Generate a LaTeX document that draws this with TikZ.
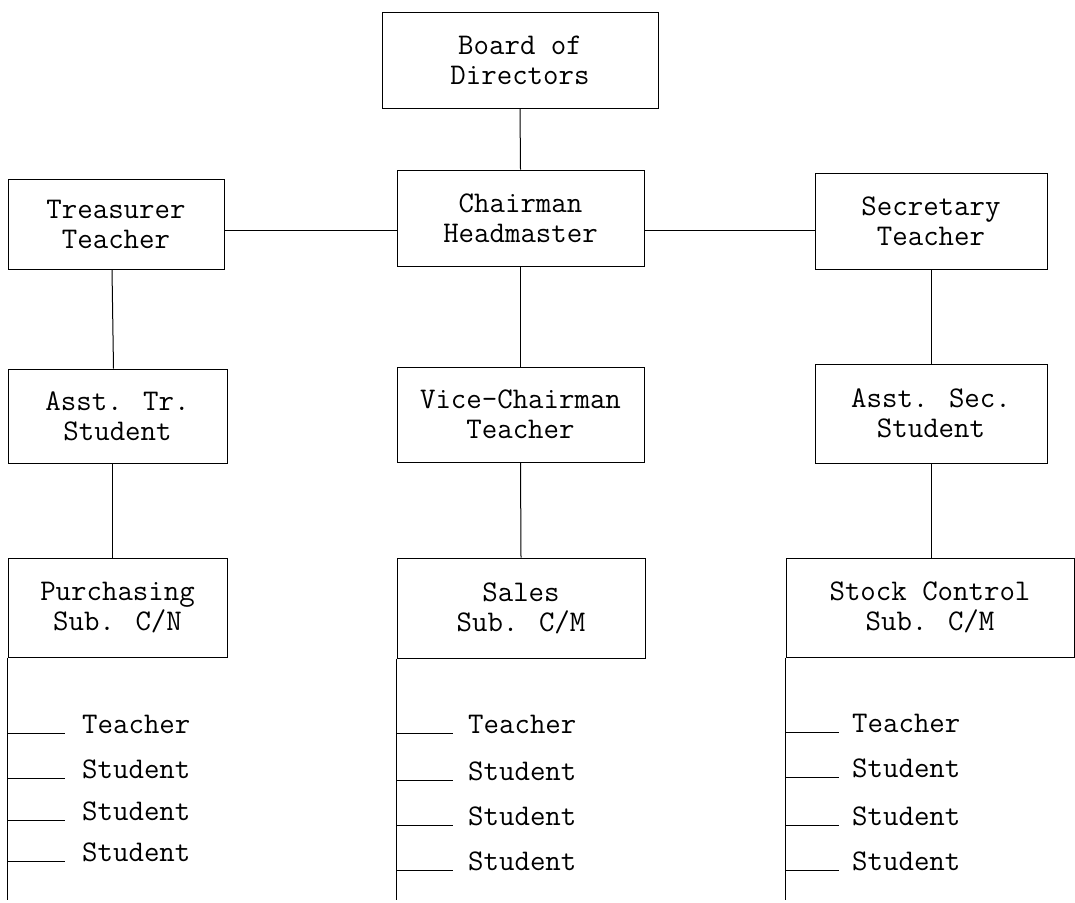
\documentclass[tikz,border=0pt]{standalone}
\usepackage{fontspec}
\begin{document}
\begin{tikzpicture}[x=1pt,y=-1pt,
  txt/.style={font=\ttfamily\fontsize{30}{30}\selectfont},
  box/.style={draw, line width=1pt, rectangle, inner sep=0pt, align=center, txt},
  item/.style={anchor=base west, inner sep=0pt, txt},
  link/.style={line width=1pt}]
\useasboundingbox (0,0) rectangle (1075,902);

% boxes of the chart
\node[box, minimum width=276pt, minimum height=96pt] (board) at (520,60) {Board of\\Directors};
\node[box, minimum width=247pt, minimum height=96pt] (chair) at (520.5,218) {Chairman\\Headmaster};
\node[box, minimum width=216pt, minimum height=90pt] (treas) at (116,224) {Treasurer\\Teacher};
\node[box, minimum width=232pt, minimum height=96pt] (secr) at (931,221) {Secretary\\Teacher};
\node[box, minimum width=219pt, minimum height=94pt] (atr) at (117.5,416) {Asst. Tr.\\Student};
\node[box, minimum width=247pt, minimum height=95pt] (vice) at (520.5,414.5) {Vice-Chairman\\Teacher};
\node[box, minimum width=232pt, minimum height=99pt] (asec) at (931,413.5) {Asst. Sec.\\Student};
\node[box, minimum width=219pt, minimum height=99pt] (purch) at (117.5,607.5) {Purchasing\\Sub. C/N};
\node[box, minimum width=248pt, minimum height=100pt] (sales) at (521,608) {Sales\\Sub. C/M};
\node[box, minimum width=288pt, minimum height=99pt] (stock) at (930,607.5) {Stock Control\\Sub. C/M};

% connectors
\coordinate (hl) at (0,230);
\coordinate (bottom) at (0,900);
\draw[link] (board.south) -- (chair.north);
\draw[link] (treas.east |- hl) -- (chair.west |- hl);
\draw[link] (chair.east |- hl) -- (secr.west |- hl);
\draw[link] ([xshift=-4pt]treas.south) -- ([xshift=-4pt]atr.north);
\draw[link] (chair.south) -- (vice.north);
\draw[link] (secr.south) -- (asec.north);
\draw[link] ([xshift=-5pt]atr.south) -- ([xshift=-5pt]purch.north);
\draw[link] (vice.south) -- (sales.north);
\draw[link] (asec.south) -- (asec.south |- stock.north);

% members of the purchasing sub-committee
\node[item] (p1) at (82,733) {Teacher};
\node[item] (p2) at (82,778) {Student};
\node[item] (p3) at (82,820) {Student};
\node[item] (p4) at (82,861) {Student};
\draw[link] (purch.south west) -- (purch.south west |- bottom);
\foreach \n in {p1,p2,p3,p4}
  \draw[link] (purch.south west |- \n.base) -- ++(57,0);

% members of the sales sub-committee
\node[item] (s1) at (468,733) {Teacher};
\node[item] (s2) at (468,780) {Student};
\node[item] (s3) at (468,825) {Student};
\node[item] (s4) at (468,870) {Student};
\draw[link] (sales.south west) -- (sales.south west |- bottom);
\foreach \n in {s1,s2,s3,s4}
  \draw[link] (sales.south west |- \n.base) -- ++(56,0);

% members of the stock control sub-committee
\node[item] (k1) at (852,732) {Teacher};
\node[item] (k2) at (852,777) {Student};
\node[item] (k3) at (852,825) {Student};
\node[item] (k4) at (852,870) {Student};
\draw[link] (stock.south west) -- (stock.south west |- bottom);
\foreach \n in {k1,k2,k3,k4}
  \draw[link] (stock.south west |- \n.base) -- ++(53,0);
\end{tikzpicture}
\end{document}
